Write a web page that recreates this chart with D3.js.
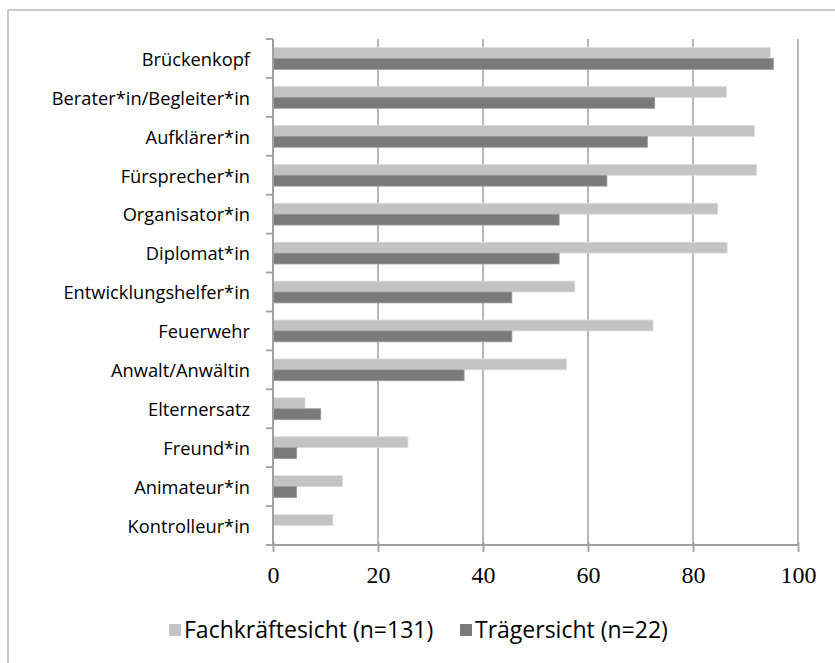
<!DOCTYPE html>
<html>
<head>
<meta charset="utf-8">
<script src="https://cdn.jsdelivr.net/npm/d3@7"></script>
<style>
  body { margin: 0; background: #fff; }
</style>
</head>
<body>
<div id="wrapper"></div>
<script>
// Daten
var categories = ["Brückenkopf", "Berater*in/Begleiter*in", "Aufklärer*in", "Fürsprecher*in",
  "Organisator*in", "Diplomat*in", "Entwicklungshelfer*in", "Feuerwehr", "Anwalt/Anwältin",
  "Elternersatz", "Freund*in", "Animateur*in", "Kontrolleur*in"];
var fachkraefte = [94.7, 86.4, 91.7, 92.1, 84.7, 86.5, 57.5, 72.4, 55.9, 6.1, 25.7, 13.2, 11.4];
var traeger = [95.3, 72.7, 71.3, 63.6, 54.5, 54.5, 45.5, 45.5, 36.4, 9.1, 4.5, 4.5, 0];
var seriesNames = ["Fachkräftesicht (n=131)", "Trägersicht (n=22)"];
var xTicks = [0, 20, 40, 60, 80, 100];

var width = 835, height = 663;
var colors = ["#c3c3c3", "#7a7a7a"];
var sans = "'Open Sans', Lato, sans-serif";

var rows = categories.map((c, i) => ({ name: c, values: [fachkraefte[i], traeger[i]] }));

const svg = d3.select('#wrapper').append('svg')
  .attr('width', width)
  .attr('height', height)
  .style('display', 'block');

// Rahmen
svg.append('rect')
  .attr('x', 8).attr('y', 10)
  .attr('width', 900).attr('height', 700)
  .attr('fill', 'none')
  .attr('stroke', '#bcbcbc')
  .attr('stroke-width', 1.5);

var x = d3.scaleLinear().domain([0, 100]).range([273, 798]);
var y = d3.scaleBand().domain(categories).range([39, 545]).paddingInner(0.44).paddingOuter(0.22);
var y1 = d3.scaleBand().domain([0, 1]).range([0, y.bandwidth()]);

// Gitterlinien
svg.append('g')
  .selectAll('line')
  .data(xTicks.slice(1))
  .join('line')
  .attr('x1', d => x(d)).attr('x2', d => x(d))
  .attr('y1', 39).attr('y2', 545)
  .attr('stroke', '#a6a6a6')
  .attr('stroke-width', 1.6);

// Balken
const group = svg.append('g')
  .selectAll('g')
  .data(rows)
  .join('g')
  .attr('transform', d => `translate(0,${y(d.name)})`);
group.selectAll('rect')
  .data(d => d.values)
  .join('rect')
  .attr('x', x(0))
  .attr('y', (d, i) => y1(i))
  .attr('width', d => x(d) - x(0))
  .attr('height', y1.bandwidth())
  .attr('fill', (d, i) => colors[i])
  .attr('stroke', (d, i) => d > 0 ? (i === 0 ? '#dcdcdc' : '#9a9a9a') : 'none')
  .attr('stroke-width', 0.8);

// y-Achse
const yAxis = svg.append('g')
  .attr('transform', `translate(${x(0)},0)`)
  .call(d3.axisLeft(y).tickSize(0).tickPadding(23));
yAxis.select('.domain').remove();
yAxis.selectAll('text')
  .attr('fill', '#000')
  .attr('dy', '0.4em')
  .style('font', `18.3px ${sans}`);

var bandEdges = categories.map((c, i) => 39 + i * (506 / 13)).concat([545]);
svg.append('g')
  .selectAll('line')
  .data(bandEdges)
  .join('line')
  .attr('x1', 266).attr('x2', x(0))
  .attr('y1', d => d).attr('y2', d => d)
  .attr('stroke', '#a0a0a0')
  .attr('stroke-width', 1.8);
svg.append('line')
  .attr('x1', x(0)).attr('x2', x(0))
  .attr('y1', 39).attr('y2', 545)
  .attr('stroke', '#a0a0a0')
  .attr('stroke-width', 2);

// x-Achse
const xAxis = svg.append('g')
  .attr('transform', 'translate(0,545)')
  .call(d3.axisBottom(x).tickValues(xTicks).tickSize(7).tickPadding(14));
xAxis.select('.domain')
  .attr('stroke', '#a0a0a0')
  .attr('stroke-width', 2)
  .attr('d', `M${x(0)},0H${x(100)}`);
xAxis.selectAll('.tick line')
  .attr('stroke', '#a0a0a0')
  .attr('stroke-width', 1.8)
  .attr('y1', -3);
xAxis.selectAll('text')
  .attr('fill', '#000')
  .style('font', "24px 'Liberation Serif', 'Times New Roman', serif");

// Legende
var legendX = [169, 460];
const legend = svg.append('g')
  .selectAll('g')
  .data(seriesNames)
  .join('g')
  .attr('transform', (d, i) => `translate(${legendX[i]},624)`);
legend.append('rect')
  .attr('width', 12).attr('height', 12)
  .attr('fill', (d, i) => colors[i]);
legend.append('text')
  .attr('x', 15)
  .attr('y', 6)
  .attr('dy', '0.36em')
  .style('font', `23px ${sans}`)
  .text(d => d);
</script>
</body>
</html>
